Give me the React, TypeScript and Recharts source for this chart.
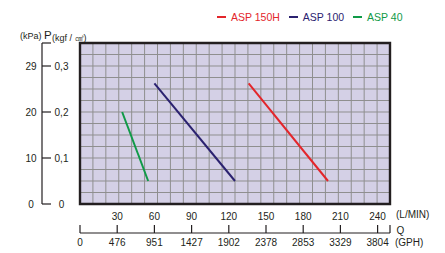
import React from 'react';
import { LineChart, Line, XAxis, YAxis, CartesianGrid, ReferenceArea, Legend } from 'recharts';

const FONT = "'Liberation Sans', Arial, Helvetica, sans-serif";
const INK = '#231f20';

// Flow (L/MIN) axis
const flowTicks = [30, 60, 90, 120, 150, 180, 210, 240];
// GPH axis (same positions, converted labels)
const gphTicks = [0, 30, 60, 90, 120, 150, 180, 210, 240, 250];
const gphLabels = ['0', '476', '951', '1427', '1902', '2378', '2853', '3329', '3804', ''];

// Pressure axes
const pressureTicks = [0, 0.1, 0.2, 0.3, 0.35];
const kgfLabels = ['0', '0,1', '0,2', '0,3', ''];
const kpaLabels = ['0', '10', '20', '29', ''];

// Series
const seriesNames = ['ASP 150H', 'ASP 100', 'ASP 40'];
const seriesColors = ['#e3262b', '#2b2270', '#109a48'];
const asp150hFlow = [136, 200];
const asp150hPressure = [0.262, 0.05];
const asp100Flow = [60, 125];
const asp100Pressure = [0.262, 0.05];
const asp40Flow = [34, 55];
const asp40Pressure = [0.2, 0.05];

const toRows = (q: number[], p: number[]) => q.map((v, i) => ({ q: v, p: p[i] }));
const seriesData = [
  toRows(asp150hFlow, asp150hPressure),
  toRows(asp100Flow, asp100Pressure),
  toRows(asp40Flow, asp40Pressure),
];

const idx = (arr: number[], v: number) => arr.findIndex((a) => Math.abs(a - v) < 1e-6);

const KgfTick = (props: any) => {
  const { x, y, payload } = props;
  const i = idx(pressureTicks, payload.value);
  const label = kgfLabels[i];
  return (
    <g>
      <line x1={x - 38} x2={x - 29} y1={y} y2={y} stroke={INK} strokeWidth={1.2} />
      {label ? (
        <text x={x - 18.5} y={y} dy={3.6} textAnchor="middle" fontSize={10} fill={INK} fontFamily={FONT}>
          {label}
        </text>
      ) : null}
    </g>
  );
};

const KpaTick = (props: any) => {
  const { x, y, payload } = props;
  const i = idx(pressureTicks, payload.value);
  const label = kpaLabels[i];
  if (!label) return <g />;
  return (
    <text x={x - 11} y={y} dy={3.6} textAnchor="middle" fontSize={10} fill={INK} fontFamily={FONT}>
      {label}
    </text>
  );
};

const FlowTick = (props: any) => {
  const { x, y, payload } = props;
  return (
    <text x={x} y={y + 15.5} textAnchor="middle" fontSize={10} fill={INK} fontFamily={FONT}>
      {payload.value}
    </text>
  );
};

const GphTick = (props: any) => {
  const { x, y, payload } = props;
  const i = idx(gphTicks, payload.value);
  const label = gphLabels[i];
  return (
    <g>
      <line x1={x} x2={x} y1={y - 8} y2={y} stroke={INK} strokeWidth={1.2} />
      {label ? (
        <text x={x} y={y + 12.5} textAnchor="middle" fontSize={10} fill={INK} fontFamily={FONT}>
          {label}
        </text>
      ) : null}
    </g>
  );
};

const FlowUnit = (props: any) => {
  const vb = props.viewBox || {};
  return (
    <text x={vb.x + vb.width + 6} y={vb.y + 13.5} fontSize={10} fill={INK} fontFamily={FONT}>
      (L/MIN)
    </text>
  );
};

const GphUnit = (props: any) => {
  const vb = props.viewBox || {};
  return (
    <g>
      <text x={vb.x + vb.width + 6.5} y={vb.y + 1} fontSize={10} fill={INK} fontFamily={FONT}>
        Q
      </text>
      <text x={vb.x + vb.width + 5} y={vb.y + 12.5} fontSize={10} fill={INK} fontFamily={FONT}>
        (GPH)
      </text>
    </g>
  );
};

const PressureHeader = (props: any) => {
  const vb = props.viewBox || {};
  const base = vb.y;
  return (
    <g fill={INK} fontFamily={FONT}>
      <text x={20} y={base - 4} fontSize={9}>(kPa)</text>
      <text x={44} y={base - 4} fontSize={11.5}>P</text>
      <text x={52} y={base - 2.5} fontSize={9}>(kgf / ㎠)</text>
    </g>
  );
};

const LegendContent = () => (
  <div style={{ display: 'flex', fontFamily: FONT, fontSize: 10.5, lineHeight: '12px' }}>
    {seriesNames.map((n, i) => (
      <div key={n} style={{ display: 'flex', alignItems: 'center', marginRight: 9, color: seriesColors[i] }}>
        <span style={{ display: 'inline-block', width: 9, height: 1.5, background: seriesColors[i], marginRight: 5 }} />
        <span>{n}</span>
      </div>
    ))}
  </div>
);

export default function App() {
  return (
    <div style={{ position: 'absolute', left: 0, top: 0, width: 445, height: 253, background: '#fff' }}>
      <LineChart width={445} height={253} margin={{ top: 31, right: 55, bottom: 0, left: 0 }}>
        <CartesianGrid
          xAxisId="flow"
          yAxisId="kgf"
          fill="#d4d0e6"
          fillOpacity={1}
          stroke="#8f8f8f"
          strokeWidth={1}
          verticalCoordinatesGenerator={(p: any) => {
            const o = p.offset;
            return Array.from({ length: 25 }, (_, i) => o.left + (i * o.width) / 24);
          }}
          horizontalCoordinatesGenerator={(p: any) => {
            const o = p.offset;
            return Array.from({ length: 15 }, (_, i) => o.top + (i * o.height) / 14);
          }}
        />
        <XAxis
          xAxisId="flow"
          dataKey="q"
          type="number"
          domain={[0, 250]}
          ticks={flowTicks}
          interval={0}
          allowDataOverflow
          axisLine={false}
          tickLine={false}
          tickSize={0}
          tickMargin={0}
          height={29}
          tick={<FlowTick />}
          label={{ content: <FlowUnit /> } as any}
        />
        <XAxis
          xAxisId="gph"
          dataKey="q"
          type="number"
          domain={[0, 250]}
          ticks={gphTicks}
          interval={0}
          allowDataOverflow
          axisLine={{ stroke: INK, strokeWidth: 1.2 }}
          tickLine={false}
          tickSize={0}
          tickMargin={0}
          height={20}
          tick={<GphTick />}
          label={{ content: <GphUnit /> } as any}
        />
        <YAxis
          yAxisId="kgf"
          type="number"
          domain={[0, 0.35]}
          ticks={pressureTicks}
          interval={0}
          allowDataOverflow
          axisLine={false}
          tickLine={false}
          tickSize={0}
          tickMargin={0}
          width={38}
          tick={<KgfTick />}
        />
        <YAxis
          yAxisId="kpa"
          type="number"
          domain={[0, 0.35]}
          ticks={pressureTicks}
          interval={0}
          allowDataOverflow
          axisLine={{ stroke: INK, strokeWidth: 1.2 }}
          tickLine={false}
          tickSize={0}
          tickMargin={0}
          width={42}
          tick={<KpaTick />}
          label={{ content: <PressureHeader /> } as any}
        />
        <ReferenceArea
          xAxisId="flow"
          yAxisId="kgf"
          x1={0}
          x2={250}
          y1={0}
          y2={0.35}
          fill="none"
          fillOpacity={0}
          stroke={INK}
          strokeWidth={2.4}
          ifOverflow="visible"
        />
        {seriesData.map((d, i) => (
          <Line
            key={seriesNames[i]}
            xAxisId="flow"
            yAxisId="kgf"
            data={d}
            dataKey="p"
            name={seriesNames[i]}
            stroke={seriesColors[i]}
            strokeWidth={2}
            dot={false}
            activeDot={false}
            isAnimationActive={false}
          />
        ))}
        <Legend
          verticalAlign="top"
          align="left"
          content={<LegendContent />}
          wrapperStyle={{ position: 'absolute', top: 11, left: 217, width: 'auto' }}
        />
      </LineChart>
    </div>
  );
}
